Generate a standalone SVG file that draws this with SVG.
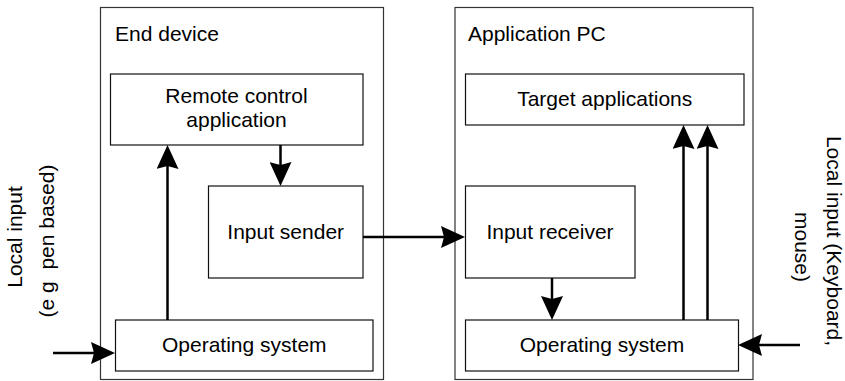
<svg xmlns="http://www.w3.org/2000/svg" width="845" height="381" viewBox="0 0 845 381">
<style>
  .outer { fill: #fff; stroke: #333; stroke-width: 1.2; }
  .box { fill: #fff; stroke: #111; stroke-width: 1.2; }
  .lbl { font-family: "Liberation Sans", Arial, sans-serif; font-size: 21px; fill: #000; }
  .mid { text-anchor: middle; }
  .conn { stroke: #000; stroke-width: 2.5; fill: none; marker-end: url(#ah); }
</style>
<defs>
  <marker id="ah" markerUnits="userSpaceOnUse" viewBox="0 0 24 22" markerWidth="24" markerHeight="22" refX="10" refY="11" orient="auto">
    <path d="M0,0 L24,11 L0,22 L3,11 z" fill="#000"/>
  </marker>
</defs>
<rect width="845" height="381" fill="#fff"/>

<g id="end-device">
  <rect class="outer" x="100.5" y="7.5" width="283" height="372"/>
  <text class="lbl" x="115" y="41">End device</text>
</g>
<g id="application-pc">
  <rect class="outer" x="455" y="7.5" width="298" height="372"/>
  <text class="lbl" x="468" y="41">Application PC</text>
</g>

<g id="remote-control">
  <rect class="box" x="110.5" y="74" width="252.5" height="71"/>
  <text class="lbl mid" x="236.5" y="103">Remote control</text>
  <text class="lbl mid" x="236.5" y="127">application</text>
</g>
<g id="input-sender">
  <rect class="box" x="208.5" y="186" width="154.5" height="92"/>
  <text class="lbl mid" x="285.7" y="239">Input sender</text>
</g>
<g id="os-left">
  <rect class="box" x="115.5" y="320" width="257.5" height="51"/>
  <text class="lbl mid" x="244.3" y="352">Operating system</text>
</g>
<g id="target-apps">
  <rect class="box" x="465.5" y="74" width="278.5" height="51"/>
  <text class="lbl mid" x="604.7" y="106">Target applications</text>
</g>
<g id="input-receiver">
  <rect class="box" x="465.5" y="186" width="169.5" height="92"/>
  <text class="lbl mid" x="550" y="239">Input receiver</text>
</g>
<g id="os-right">
  <rect class="box" x="465.5" y="320" width="273" height="51"/>
  <text class="lbl mid" x="602" y="352">Operating system</text>
</g>

<g id="label-left">
  <text class="lbl mid" transform="translate(22,237) rotate(-90)" x="0" y="0">Local input</text>
  <text class="lbl mid" transform="translate(54,241) rotate(-90)" x="0" y="0" xml:space="preserve">(e g  pen based)</text>
</g>
<g id="label-right">
  <text class="lbl mid" transform="translate(827,241) rotate(90)" x="0" y="0">Local input (Keyboard,</text>
  <text class="lbl mid" transform="translate(795,247) rotate(90)" x="0" y="0">mouse)</text>
</g>

<g id="connectors">
  <line class="conn" x1="167.5" y1="320" x2="167.5" y2="159"/>
  <line class="conn" x1="280.5" y1="145" x2="280.5" y2="172"/>
  <line class="conn" x1="363" y1="237" x2="451" y2="237"/>
  <line class="conn" x1="552" y1="278" x2="552" y2="306"/>
  <line class="conn" x1="683.5" y1="320" x2="683.5" y2="139"/>
  <line class="conn" x1="707.5" y1="320" x2="707.5" y2="139"/>
  <line class="conn" x1="800" y1="345" x2="752" y2="345"/>
  <line class="conn" x1="53" y1="353" x2="101" y2="353"/>
</g>
</svg>
